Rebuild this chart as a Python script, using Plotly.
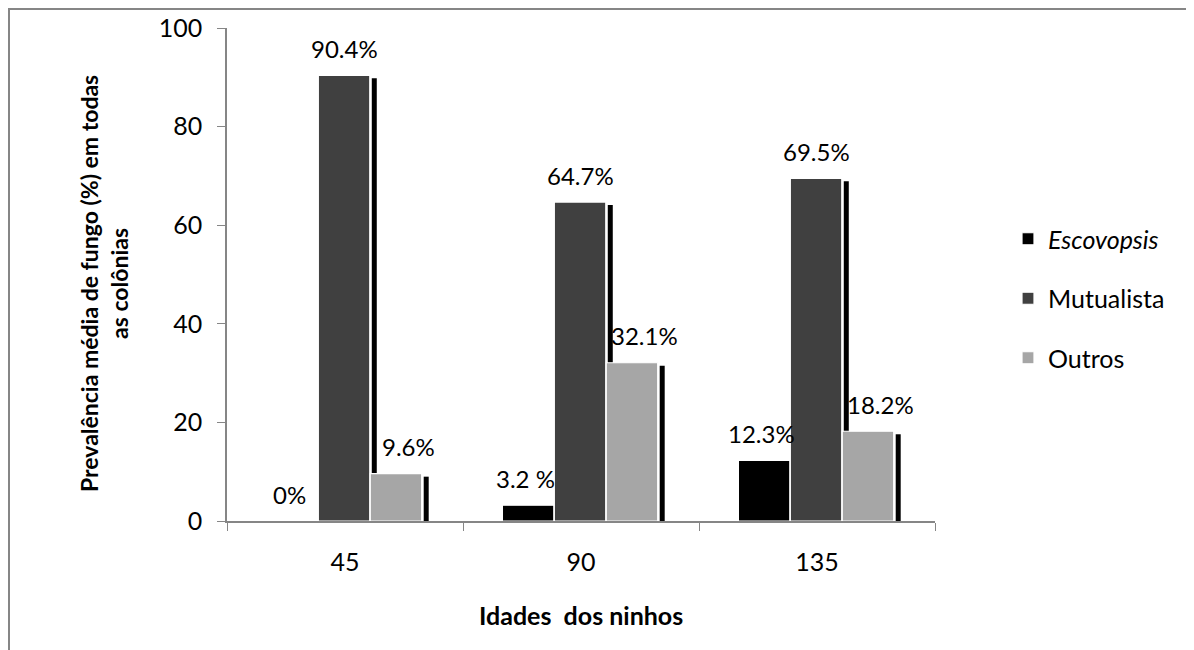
import plotly.graph_objects as go

categories = ["45", "90", "135"]
series_names = ["<i>Escovopsis</i>", "Mutualista", "Outros"]
escovopsis = [0.0, 3.2, 12.3]
mutualista = [90.4, 64.7, 69.5]
outros = [9.6, 32.1, 18.2]
label_texts = [["0%", "3.2 %", "12.3%"],
               ["90.4%", "64.7%", "69.5%"],
               ["9.6%", "32.1%", "18.2%"]]
y_ticks = [0, 20, 40, 60, 80, 100]

series_values = [escovopsis, mutualista, outros]
colors = ["#000000", "#404040", "#A6A6A6"]

# page offset (default body margin of the html page)
O = 8
# layout geometry (pixels, figure coordinates)
W, H = 1194 - O, 650 - O
L, T = 227 - O, 28 - O
plot_w, plot_h = 708, 493
R = W - L - plot_w
B = H - T - plot_h
px_cat = plot_w / len(categories)
px_unit = plot_h / 100.0


def px_x(xp):  # screen px -> paper x
    return (xp - O - L) / plot_w


def px_y(yp):  # screen px -> paper y
    return (T + plot_h - (yp - O)) / plot_h


bar_w = 0.218
offsets = [-0.333, -0.113, 0.107]
label_xshift = [-3, 0, 13]

FONT = "Lato, Carlito, Calibri, sans-serif"

fig = go.Figure()

# shadows (drawn first, behind the bars)
for k, vals in enumerate(series_values):
    sh_y = [max(v - 3 / px_unit, 0) for v in vals]
    fig.add_trace(go.Bar(
        x=categories, y=sh_y,
        width=5 / px_cat, offset=offsets[k] + bar_w + 2 / px_cat,
        marker=dict(color="#000000", line=dict(width=0)),
        showlegend=False, hoverinfo="skip",
    ))

for k, vals in enumerate(series_values):
    fig.add_trace(go.Bar(
        x=categories, y=vals, name=series_names[k],
        width=bar_w, offset=offsets[k],
        marker=dict(color=colors[k], line=dict(color="#ffffff", width=1.2)),
        legendgroup=str(k),
    ))

# data labels
for k, vals in enumerate(series_values):
    for i, v in enumerate(vals):
        fig.add_annotation(
            x=i + offsets[k] + bar_w / 2, y=v, xref="x", yref="y",
            text=label_texts[k][i], showarrow=False,
            xanchor="center", yanchor="middle",
            xshift=label_xshift[k], yshift=27,
            font=dict(family=FONT, size=24, color="#000000"),
        )

# axis titles
fig.add_annotation(
    x=px_x(104), y=px_y(284), xref="paper", yref="paper",
    text="Prevalência média de fungo (%) em todas<br>as colônias",
    textangle=-90, showarrow=False, xanchor="center", yanchor="middle",
    font=dict(family=FONT, size=23, color="#000000", weight="bold"),
)
fig.add_annotation(
    x=0.5, y=px_y(615), xref="paper", yref="paper",
    text="Idades\u00a0 dos ninhos", showarrow=False,
    xanchor="center", yanchor="middle",
    font=dict(family=FONT, size=25, color="#000000", weight="bold"),
)

# outer chart border
fig.add_shape(
    type="rect", xref="paper", yref="paper",
    x0=px_x(9), x1=px_x(1192.5),
    y0=px_y(700), y1=px_y(9),
    line=dict(color="#868686", width=2), fillcolor="rgba(0,0,0,0)", layer="below",
)

axis_col = "#868686"
fig.update_layout(
    width=W, height=H,
    margin=dict(l=L, r=R, t=T, b=B, autoexpand=False),
    paper_bgcolor="#ffffff", plot_bgcolor="#ffffff",
    barmode="overlay",
    font=dict(family=FONT, size=24, color="#000000"),
    xaxis=dict(
        type="category", categoryorder="array", categoryarray=categories,
        range=[-0.5, 2.5], tickson="boundaries", ticks="outside", ticklen=8,
        tickcolor=axis_col, showline=True, linecolor=axis_col, linewidth=1.5,
        showgrid=False, zeroline=False, ticklabelstandoff=18, automargin=False,
        tickfont=dict(family=FONT, size=25),
    ),
    yaxis=dict(
        range=[0, 100], tickvals=y_ticks, ticks="outside", ticklen=8,
        tickcolor=axis_col, showline=True, linecolor=axis_col, linewidth=1.5,
        showgrid=False, zeroline=False, ticklabelstandoff=10, automargin=False,
        tickfont=dict(family=FONT, size=25),
    ),
    legend=dict(
        x=px_x(1008), xanchor="left",
        y=px_y(216), yanchor="top",
        font=dict(family=FONT, size=25), tracegroupgap=24,
        bgcolor="rgba(0,0,0,0)",
    ),
    showlegend=True,
)

fig.write_html("out.html")
